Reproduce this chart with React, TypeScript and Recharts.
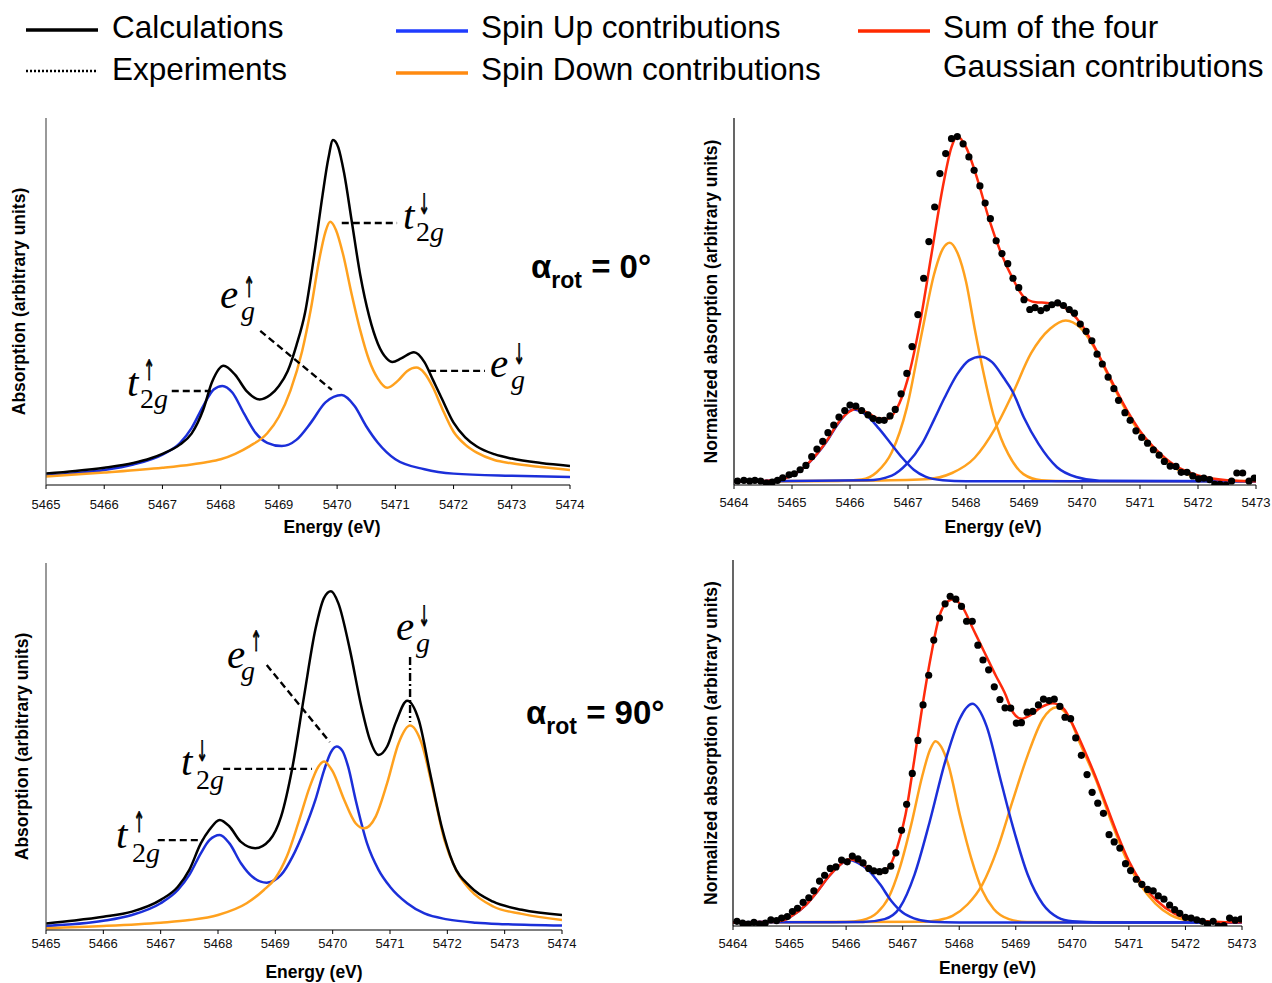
import React from 'react';
import { LineChart, Line, XAxis, YAxis, ReferenceLine, Label } from 'recharts';

const SANS = "'Liberation Sans', Arial, Helvetica, sans-serif";
const SERIF = "'Liberation Serif', 'Times New Roman', serif";
const ARROWFONT = "'DejaVu Sans', 'DejaVu Serif', sans-serif";

const BLACK = '#000000';
const BLUE = '#1b2fd9';
const ORANGE = '#ffa11e';
const RED = '#ff2b0c';

type Pt = [number, number];

// ---------- tick labels ----------
const ticksCalc = [5465, 5466, 5467, 5468, 5469, 5470, 5471, 5472, 5473, 5474];
const ticksFit = [5464, 5465, 5466, 5467, 5468, 5469, 5470, 5471, 5472, 5473];

// ---------- Top-left: calculations, alpha_rot = 0 ----------
const calc0Total: Pt[] = [
  [5465, 3.1], [5465.5, 3.8], [5466, 4.7], [5466.5, 6], [5466.8, 7.3], [5467, 8.5], [5467.3, 11], [5467.5, 14],
  [5467.7, 20.5], [5467.85, 28], [5468.05, 32.5], [5468.25, 30], [5468.45, 25.5], [5468.67, 23.3], [5468.85, 24.5],
  [5469, 27], [5469.15, 31], [5469.3, 38], [5469.45, 47], [5469.6, 62], [5469.75, 79], [5469.85, 89], [5469.93, 94],
  [5470.02, 92], [5470.12, 85], [5470.25, 72], [5470.4, 57], [5470.55, 46], [5470.7, 38.5], [5470.85, 34.5],
  [5470.95, 33.5], [5471.1, 34.5], [5471.32, 36.2], [5471.5, 33.5], [5471.65, 28.5], [5471.8, 23.5], [5472, 17],
  [5472.2, 13], [5472.4, 10.5], [5472.7, 8.4], [5473, 7.2], [5473.5, 6], [5474, 5.2],
];
const calc0Up: Pt[] = [
  [5465, 2.5], [5465.5, 3.2], [5466, 4.1], [5466.5, 5.6], [5467, 8.3], [5467.3, 11.4], [5467.5, 15.5], [5467.7, 21.5],
  [5467.88, 26], [5468.03, 27], [5468.2, 25.2], [5468.4, 19.5], [5468.6, 14.2], [5468.8, 11.5], [5469.05, 10.6],
  [5469.3, 12.3], [5469.55, 17], [5469.8, 22.5], [5470.08, 24.5], [5470.3, 21.5], [5470.5, 16], [5470.7, 11.5],
  [5471, 7], [5471.5, 4.3], [5472, 3.1], [5473, 2.5], [5474, 2.2],
];
const calc0Down: Pt[] = [
  [5465, 2.3], [5466, 3.4], [5467, 4.7], [5467.5, 5.6], [5467.75, 6.2], [5468, 7], [5468.25, 8.5], [5468.5, 10.6],
  [5468.8, 14.1], [5469, 18.6], [5469.2, 25.8], [5469.4, 36.5], [5469.55, 48], [5469.7, 62], [5469.8, 69],
  [5469.88, 71.7], [5469.98, 69.5], [5470.1, 63], [5470.25, 52], [5470.4, 42], [5470.55, 34], [5470.7, 29],
  [5470.86, 26.5], [5471.05, 28.5], [5471.2, 31], [5471.36, 32], [5471.5, 30.5], [5471.65, 26.5], [5471.8, 21],
  [5472, 14.5], [5472.2, 11], [5472.4, 8.8], [5472.7, 6.8], [5473, 5.9], [5473.5, 4.9], [5474, 4.1],
];

// ---------- Bottom-left: calculations, alpha_rot = 90 ----------
const calc90Total: Pt[] = [
  [5465, 1.8], [5465.5, 2.6], [5466, 3.6], [5466.5, 5], [5467, 8.2], [5467.3, 11.8], [5467.5, 16.4], [5467.7, 23.6],
  [5467.85, 27.3], [5468.03, 30], [5468.2, 28.2], [5468.4, 24], [5468.65, 22.3], [5468.9, 24.5], [5469.1, 30.9],
  [5469.3, 44.5], [5469.5, 63.6], [5469.7, 82], [5469.85, 90.5], [5469.97, 92.3], [5470.1, 89], [5470.3, 76.4],
  [5470.5, 60.9], [5470.65, 51.8], [5470.8, 47.7], [5470.95, 50], [5471.1, 56.5], [5471.3, 62.5], [5471.5, 57.3],
  [5471.7, 42.7], [5471.9, 28.2], [5472.1, 18.2], [5472.4, 11.8], [5472.8, 7.7], [5473.3, 5.5], [5474, 4.1],
];
const calc90Up: Pt[] = [
  [5465, 1.1], [5466, 2.5], [5466.5, 4.1], [5467, 7.3], [5467.3, 10.9], [5467.5, 15], [5467.7, 20.9], [5467.85, 24.5],
  [5468.03, 25.9], [5468.2, 23.6], [5468.4, 18.2], [5468.6, 14.5], [5468.85, 12.9], [5469.1, 15], [5469.3, 20],
  [5469.5, 27], [5469.7, 35.5], [5469.85, 43.5], [5469.97, 48.5], [5470.07, 50], [5470.17, 48.8], [5470.27, 44.5],
  [5470.4, 35.5], [5470.6, 23.6], [5470.8, 16.4], [5471, 11.8], [5471.3, 7.3], [5471.6, 4.5], [5472, 2.9],
  [5472.5, 2], [5473, 1.6], [5474, 1.2],
];
const calc90Down: Pt[] = [
  [5465, 0.5], [5466, 1.1], [5467, 2], [5467.5, 2.7], [5468, 4.1], [5468.5, 7.3], [5468.8, 10.9], [5469, 14.1],
  [5469.2, 20], [5469.4, 29.1], [5469.6, 39], [5469.75, 44.5], [5469.85, 45.9], [5470, 43.2], [5470.2, 35.5],
  [5470.4, 29.1], [5470.55, 27.7], [5470.75, 30.9], [5470.95, 40], [5471.15, 50.9], [5471.35, 55.7], [5471.55, 50.9],
  [5471.75, 38.2], [5471.95, 24.5], [5472.15, 16.4], [5472.4, 10.9], [5472.8, 6.4], [5473.3, 4.4], [5474, 2.7],
];

// ---------- Top-right: Gaussian fit, alpha_rot = 0 ----------
const fit0Sum: Pt[] = [
  [5464, 0], [5464.5, 0.1], [5464.8, 0.6], [5465, 1.6], [5465.3, 5.3], [5465.6, 11.2], [5465.8, 16.2], [5466, 19.3],
  [5466.1, 20], [5466.3, 18.9], [5466.5, 17.3], [5466.65, 17.2], [5466.8, 19.8], [5467, 28.4], [5467.2, 43],
  [5467.4, 62], [5467.6, 81], [5467.75, 92], [5467.85, 95], [5468, 92], [5468.2, 83], [5468.4, 72], [5468.6, 63],
  [5468.8, 56], [5469, 50.7], [5469.2, 49.3], [5469.4, 49.1], [5469.6, 48.6], [5469.8, 46.6], [5470, 43],
  [5470.2, 37.5], [5470.4, 31.2], [5470.6, 24.8], [5470.8, 18.9], [5471, 13.9], [5471.3, 8.4], [5471.6, 4.4],
  [5472, 1.6], [5472.5, 0.3], [5473, 0],
];
const fit0Up1: Pt[] = [
  [5464, 0], [5464.5, 0.1], [5464.8, 0.6], [5465, 1.5], [5465.3, 5.2], [5465.6, 11], [5465.8, 16], [5466, 19.5],
  [5466.07, 19.8], [5466.3, 18], [5466.5, 14.5], [5466.7, 10.5], [5466.9, 6.5], [5467.1, 3.2], [5467.3, 1.3],
  [5467.6, 0.3], [5468, 0], [5473, 0],
];
const fit0Up2: Pt[] = [
  [5464, 0], [5466.3, 0.3], [5466.72, 1.6], [5466.98, 4.8], [5467.24, 10.3], [5467.45, 17], [5467.63, 23],
  [5467.85, 29.5], [5468.05, 33.3], [5468.25, 34.3], [5468.45, 32.8], [5468.65, 28.5], [5468.8, 24.8], [5469, 17.5],
  [5469.25, 10.3], [5469.57, 3.9], [5469.9, 1.2], [5470.3, 0.2], [5473, 0],
];
const fit0Down1: Pt[] = [
  [5464, 0], [5465.8, 0.1], [5466.2, 0.5], [5466.46, 2.5], [5466.72, 8], [5466.98, 20.3], [5467.24, 41],
  [5467.45, 57], [5467.6, 64], [5467.72, 65.7], [5467.85, 63], [5468, 55], [5468.15, 42], [5468.3, 30],
  [5468.47, 18.4], [5468.6, 12], [5468.73, 7.5], [5468.99, 2], [5469.3, 0.3], [5469.8, 0], [5473, 0],
];
const fit0Down2: Pt[] = [
  [5464, 0], [5466.2, 0.2], [5467.3, 0.6], [5467.76, 2.3], [5468.15, 6.5], [5468.5, 14.5], [5468.8, 24],
  [5469.12, 35.2], [5469.45, 42], [5469.72, 44.3], [5469.97, 42.3], [5470.22, 36.6], [5470.48, 28.2],
  [5470.87, 16.4], [5471.2, 9.6], [5471.52, 4.6], [5471.85, 1.7], [5472.17, 0.6], [5472.5, 0.2], [5473, 0.1],
];
const exp0: Pt[] = [
  [5464.06, 0.1], [5464.17, 0.3], [5464.27, 0.1], [5464.36, 0.3], [5464.46, 0.1], [5464.56, -0.5], [5464.66, -0.2],
  [5464.75, 0.3], [5464.84, 1.0], [5464.95, 1.8], [5465.04, 2.1], [5465.14, 3.2], [5465.24, 4.4], [5465.34, 6.8],
  [5465.43, 8.9], [5465.53, 11.0], [5465.62, 13.4], [5465.72, 15.5], [5465.81, 17.7], [5465.91, 19.5], [5466.0, 21.0],
  [5466.1, 20.7], [5466.2, 19.5], [5466.31, 18.3], [5466.4, 17.3], [5466.5, 16.8], [5466.59, 16.8], [5466.69, 18.0],
  [5466.78, 19.8], [5466.88, 24.1], [5466.98, 29.7], [5467.07, 37.1], [5467.17, 45.9], [5467.27, 55.9], [5467.36, 66.0],
  [5467.46, 75.5], [5467.55, 84.7], [5467.65, 90.2], [5467.75, 94.3], [5467.85, 94.9], [5467.95, 92.9], [5468.05, 89.3],
  [5468.14, 85.6], [5468.24, 81.3], [5468.33, 76.6], [5468.42, 72.3], [5468.52, 66.2], [5468.62, 62.7], [5468.72, 59.9],
  [5468.81, 55.9], [5468.91, 53.3], [5469.0, 50.0], [5469.1, 47.3], [5469.19, 47.8], [5469.29, 47.0], [5469.39, 47.7],
  [5469.48, 48.6], [5469.58, 49.1], [5469.68, 48.4], [5469.78, 47.3], [5469.87, 46.3], [5469.97, 43.3], [5470.07, 41.3],
  [5470.17, 38.7], [5470.26, 35.0], [5470.35, 32.3], [5470.45, 28.7], [5470.55, 25.5], [5470.63, 22.3], [5470.74, 18.9],
  [5470.83, 16.8], [5470.93, 13.9], [5471.03, 12.1], [5471.13, 10.5], [5471.23, 8.7], [5471.33, 7.2], [5471.42, 5.5],
  [5471.52, 4.2], [5471.62, 4.1], [5471.71, 2.5], [5471.81, 2.5], [5471.91, 1.5], [5472.01, 0.7], [5472.1, 0.9],
  [5472.2, 0.5], [5472.29, -0.8], [5472.38, -0.8], [5472.48, -1.0], [5472.58, 0.1], [5472.67, 2.3], [5472.77, 2.3],
  [5472.88, 0.1], [5472.97, 0.9],
];

// ---------- Bottom-right: Gaussian fit, alpha_rot = 90 ----------
const fit90Sum: Pt[] = [
  [5464, 0], [5464.5, 0.1], [5464.9, 0.6], [5465, 1.4], [5465.3, 5], [5465.5, 8.7], [5465.7, 12.8], [5465.9, 16],
  [5466.05, 17.4], [5466.2, 16.9], [5466.4, 14.9], [5466.6, 13.7], [5466.75, 15.1], [5466.9, 20.5], [5467.05, 29.7],
  [5467.2, 44.3], [5467.35, 59.8], [5467.5, 73.5], [5467.65, 84.5], [5467.8, 88.6], [5467.9, 89.2], [5468.05, 87.2],
  [5468.25, 80.8], [5468.45, 74.4], [5468.65, 68], [5468.8, 63.5], [5468.95, 58], [5469.1, 56.2], [5469.25, 57.1],
  [5469.45, 59.4], [5469.65, 60.5], [5469.85, 58.9], [5470, 54.8], [5470.2, 48], [5470.4, 40.6], [5470.6, 32.4],
  [5470.8, 24.2], [5471, 16.9], [5471.2, 11.4], [5471.5, 5.9], [5471.8, 2.5], [5472.1, 0.9], [5472.5, 0.2], [5473, 0],
];
const fit90Up1: Pt[] = [
  [5464, 0], [5464.6, 0.2], [5464.9, 0.6], [5465, 1.4], [5465.3, 5], [5465.5, 8.7], [5465.7, 12.8], [5465.9, 16],
  [5466.05, 17.2], [5466.2, 16.5], [5466.4, 14.3], [5466.6, 10.5], [5466.8, 5.9], [5467, 2.7], [5467.2, 1.1],
  [5467.5, 0.2], [5468, 0], [5473, 0],
];
const fit90Up2: Pt[] = [
  [5464, 0], [5466.3, 0.1], [5466.68, 0.9], [5466.95, 4.1], [5467.21, 13.2], [5467.48, 27.9], [5467.75, 44.3],
  [5468.01, 56.2], [5468.23, 60.3], [5468.48, 54.3], [5468.74, 38.8], [5468.94, 26.9], [5469.21, 13.2], [5469.48, 5],
  [5469.74, 1.4], [5470, 0.3], [5470.5, 0], [5473, 0],
];
const fit90Down1: Pt[] = [
  [5464, 0], [5466, 0.1], [5466.28, 0.6], [5466.55, 2.7], [5466.75, 6.8], [5466.95, 15.1], [5467.15, 26.9],
  [5467.35, 40.6], [5467.48, 47.5], [5467.58, 50], [5467.68, 48.5], [5467.81, 43.4], [5468.01, 29.7], [5468.21, 17.8],
  [5468.41, 8.7], [5468.61, 3.7], [5468.88, 0.9], [5469.2, 0.1], [5473, 0],
];
const fit90Down2: Pt[] = [
  [5464, 0], [5467.4, 0.2], [5467.62, 0.6], [5467.88, 1.8], [5468.15, 5], [5468.41, 10.5], [5468.68, 20.5],
  [5468.94, 33.3], [5469.21, 46.1], [5469.48, 56.2], [5469.72, 59.4], [5469.94, 56.6], [5470.14, 49.2], [5470.41, 39.6],
  [5470.67, 28.6], [5470.94, 18.0], [5471.2, 10.4], [5471.47, 5.2], [5471.74, 2.0], [5472.07, 0.5], [5472.5, 0.1],
  [5473, 0],
];
const exp90: Pt[] = [
  [5464.07, 0.3], [5464.17, -0.2], [5464.27, -0.5], [5464.37, 0], [5464.47, -0.5], [5464.57, -0.2], [5464.67, 0.7],
  [5464.77, 0.5], [5464.86, 1.2], [5464.96, 1.6], [5465.05, 3.0], [5465.14, 3.9], [5465.24, 5.5], [5465.34, 6.8],
  [5465.43, 8.7], [5465.53, 11.4], [5465.62, 13.0], [5465.72, 14.9], [5465.82, 15.3], [5465.92, 17.2], [5466.02, 16.7],
  [5466.11, 18.3], [5466.21, 17.5], [5466.3, 16.4], [5466.4, 14.9], [5466.49, 14.2], [5466.59, 14.0], [5466.69, 14.3],
  [5466.79, 15.5], [5466.88, 19.2], [5466.98, 25.4], [5467.07, 32.6], [5467.17, 41.1], [5467.27, 50.2], [5467.36, 60.0],
  [5467.46, 68.2], [5467.55, 77.9], [5467.65, 84.0], [5467.75, 87.9], [5467.84, 90.0], [5467.94, 89.2], [5468.04, 87.2],
  [5468.13, 83.1], [5468.23, 83.1], [5468.33, 76.5], [5468.42, 72.4], [5468.52, 69.7], [5468.62, 65.0], [5468.72, 61.5],
  [5468.81, 59.2], [5468.91, 59.1], [5469.01, 55.0], [5469.1, 55.1], [5469.2, 58.0], [5469.3, 58.2], [5469.4, 60.0],
  [5469.49, 61.6], [5469.59, 61.2], [5469.68, 61.6], [5469.78, 59.6], [5469.87, 56.6], [5469.97, 56.2], [5470.06, 50.9],
  [5470.16, 46.1], [5470.26, 40.8], [5470.35, 35.9], [5470.45, 32.9], [5470.55, 30.1], [5470.65, 24.2], [5470.74, 22.2],
  [5470.84, 20.5], [5470.94, 16.2], [5471.03, 14.3], [5471.13, 11.9], [5471.23, 10.5], [5471.33, 9.1], [5471.43, 8.7],
  [5471.52, 7.3], [5471.62, 6.4], [5471.72, 4.8], [5471.81, 3.5], [5471.9, 2.5], [5472.0, 1.4], [5472.1, 1.2],
  [5472.2, 0.7], [5472.3, 0.3], [5472.39, -0.5], [5472.49, 0.3], [5472.58, -1.0], [5472.68, -0.9], [5472.78, 1.2],
  [5472.88, 0.6], [5472.98, 0.9],
];

const pts = (a: Pt[]) => a.map(([x, y]) => ({ x, y }));

type Seg = { a: Pt; b: Pt; dash?: string };
type Series = { data: Pt[]; color: string };

interface PanelProps {
  left: number;
  top: number;
  width: number;
  height: number;
  margin: { top: number; right: number; bottom: number; left: number };
  xDomain: [number, number];
  yDomain: [number, number];
  ticks: number[];
  tickMargin: number;
  lines: Series[];
  dots?: Pt[];
  yTitle: string;
  yTitleX: number;
  xTitleDx: number;
  segments?: Seg[];
  yAxisColor: string;
}

function Panel(p: PanelProps) {
  const xTitle = (props: any) => {
    const vb = props.viewBox || {};
    const cx = vb.x + vb.width / 2 + p.xTitleDx;
    const cy = vb.y + 42;
    return (
      <text x={cx} y={cy} textAnchor="middle" dominantBaseline="central" fontFamily={SANS} fontWeight="bold" fontSize={17.5} fill="#000">
        Energy (eV)
      </text>
    );
  };
  const yTitle = (props: any) => {
    const vb = props.viewBox || {};
    const cy = vb.y + vb.height / 2;
    const cx = p.yTitleX;
    return (
      <text x={cx} y={cy} transform={`rotate(-90 ${cx} ${cy})`} textAnchor="middle" dominantBaseline="central" fontFamily={SANS} fontWeight="bold" fontSize={17.5} fill="#000">
        {p.yTitle}
      </text>
    );
  };
  return (
    <div style={{ position: 'absolute', left: p.left, top: p.top }}>
      <LineChart width={p.width} height={p.height} margin={p.margin}>
        <XAxis
          type="number"
          dataKey="x"
          domain={p.xDomain}
          ticks={p.ticks}
          interval={0}
          allowDataOverflow
          height={30}
          tickSize={4}
          tickMargin={p.tickMargin}
          stroke="#000"
          tick={{ fontSize: 13, fill: '#111', fontFamily: SANS }}
        >
          <Label content={xTitle} />
        </XAxis>
        <YAxis
          type="number"
          domain={p.yDomain}
          allowDataOverflow
          width={40}
          tick={false}
          tickLine={false}
          axisLine={{ stroke: p.yAxisColor, strokeWidth: 1.2 }}
        >
          <Label content={yTitle} />
        </YAxis>
        {p.lines.map((s, i) => (
          <Line
            key={i}
            data={pts(s.data)}
            dataKey="y"
            type="monotone"
            stroke={s.color}
            strokeWidth={2.5}
            dot={false}
            activeDot={false}
            isAnimationActive={false}
          />
        ))}
        {p.dots && (
          <Line
            data={pts(p.dots)}
            dataKey="y"
            stroke="none"
            strokeWidth={0}
            dot={{ r: 3.6, fill: '#000', stroke: 'none' }}
            activeDot={false}
            isAnimationActive={false}
          />
        )}
        {(p.segments || []).map((s, i) => (
          <ReferenceLine
            key={'s' + i}
            segment={[{ x: s.a[0], y: s.a[1] }, { x: s.b[0], y: s.b[1] }]}
            stroke="#000"
            strokeWidth={2.4}
            strokeDasharray={s.dash || '7 4'}
            ifOverflow="visible"
          />
        ))}
      </LineChart>
    </div>
  );
}

function Orb(props: { base: string; bx: number; by: number; arrow: string; ax: number; ay: number; two: boolean; sx: number; sy: number }) {
  return (
    <g fill="#000">
      <text x={props.bx} y={props.by} fontFamily={SERIF} fontStyle="italic" fontSize={41}>{props.base}</text>
      <text
        transform={`translate(${props.ax} ${props.ay}) scale(0.5 1)`}
        fontFamily={ARROWFONT}
        fontSize={28}
        textAnchor="middle"
        fill="#000"
        stroke="#000"
        strokeWidth={0.9}
      >
        {props.arrow + '\uFE0E'}
      </text>
      <text x={props.sx} y={props.sy} fontFamily={SERIF} fontSize={28}>
        {props.two ? <tspan>2</tspan> : null}
        <tspan fontStyle="italic">g</tspan>
      </text>
    </g>
  );
}

function Alpha(props: { x: number; y: number; value: string }) {
  return (
    <text x={props.x} y={props.y} fontFamily={SANS} fontWeight="bold" fill="#000" fontSize={33}>
      α
      <tspan fontSize={23} dy={10}>rot</tspan>
      <tspan fontSize={33} dy={-10}>{' = ' + props.value}</tspan>
    </text>
  );
}

export default function App() {
  return (
    <div style={{ position: 'absolute', left: 0, top: 0, width: 1272, height: 983, background: '#fff', overflow: 'hidden' }}>
      <Panel
        left={0}
        top={100}
        width={600}
        height={450}
        margin={{ top: 18, right: 30, bottom: 35, left: 6 }}
        xDomain={[5465, 5474]}
        yDomain={[0, 100]}
        ticks={ticksCalc}
        tickMargin={11}
        lines={[
          { data: calc0Up, color: BLUE },
          { data: calc0Down, color: ORANGE },
          { data: calc0Total, color: BLACK },
        ]}
        yTitle="Absorption (arbitrary units)"
        yTitleX={19}
        xTitleDx={24}
        yAxisColor="#555"
        segments={[
          { a: [5470.08, 71.4], b: [5471.03, 71.4] },
          { a: [5468.68, 42], b: [5469.91, 25.9] },
          { a: [5471.58, 31.1], b: [5472.54, 31.1] },
          { a: [5467.16, 25.6], b: [5467.83, 25.6] },
        ]}
      />
      <Panel
        left={680}
        top={100}
        width={592}
        height={450}
        margin={{ top: 18, right: 16, bottom: 35, left: 14 }}
        xDomain={[5464, 5473]}
        yDomain={[-1, 100]}
        ticks={ticksFit}
        tickMargin={9}
        lines={[
          { data: fit0Down1, color: ORANGE },
          { data: fit0Down2, color: ORANGE },
          { data: fit0Up1, color: BLUE },
          { data: fit0Up2, color: BLUE },
          { data: fit0Sum, color: RED },
        ]}
        dots={exp0}
        yTitle="Normalized absorption (arbitrary units)"
        yTitleX={31}
        xTitleDx={-2}
        yAxisColor="#000"
      />
      <Panel
        left={0}
        top={550}
        width={600}
        height={433}
        margin={{ top: 13, right: 38, bottom: 23, left: 6 }}
        xDomain={[5465, 5474]}
        yDomain={[0, 100]}
        ticks={ticksCalc}
        tickMargin={5}
        lines={[
          { data: calc90Up, color: BLUE },
          { data: calc90Down, color: ORANGE },
          { data: calc90Total, color: BLACK },
        ]}
        yTitle="Absorption (arbitrary units)"
        yTitleX={22}
        xTitleDx={10}
        yAxisColor="#555"
        segments={[
          { a: [5468.85, 72.2], b: [5469.95, 51.2] },
          { a: [5471.35, 74.4], b: [5471.35, 56.7], dash: '8 3 2 3' },
          { a: [5468.09, 43.9], b: [5469.64, 43.9] },
          { a: [5466.95, 24.5], b: [5467.74, 24.5] },
        ]}
      />
      <Panel
        left={680}
        top={550}
        width={592}
        height={433}
        margin={{ top: 10, right: 30, bottom: 27, left: 13 }}
        xDomain={[5464, 5473]}
        yDomain={[-1, 100]}
        ticks={ticksFit}
        tickMargin={9}
        lines={[
          { data: fit90Down1, color: ORANGE },
          { data: fit90Down2, color: ORANGE },
          { data: fit90Up1, color: BLUE },
          { data: fit90Up2, color: BLUE },
          { data: fit90Sum, color: RED },
        ]}
        dots={exp90}
        yTitle="Normalized absorption (arbitrary units)"
        yTitleX={31}
        xTitleDx={0}
        yAxisColor="#000"
      />

      <svg width={1272} height={983} style={{ position: 'absolute', left: 0, top: 0, pointerEvents: 'none' }}>
        {/* legend */}
        <g fontFamily={SANS} fontSize={31.5} fill="#000">
          <line x1={26} y1={30} x2={98} y2={30} stroke="#000" strokeWidth={3.5} />
          <text x={112} y={38}>Calculations</text>
          <line x1={26} y1={71} x2={98} y2={71} stroke="#000" strokeWidth={2.5} strokeDasharray="2 2" />
          <text x={112} y={80}>Experiments</text>
          <line x1={396} y1={31} x2={468} y2={31} stroke="#1f3cff" strokeWidth={3.5} />
          <text x={481} y={38}>Spin Up contributions</text>
          <line x1={396} y1={73} x2={468} y2={73} stroke="#ff8a10" strokeWidth={3.5} />
          <text x={481} y={80}>Spin Down contributions</text>
          <line x1={858} y1={31} x2={930} y2={31} stroke="#ff2a00" strokeWidth={3.5} />
          <text x={943} y={38}>Sum of the four</text>
          <text x={943} y={77}>Gaussian contributions</text>
        </g>

        {/* top-left annotations */}
        <Orb base="t" bx={403} by={229} arrow="↓" ax={424} ay={214} two sx={416} sy={241} />
        <Orb base="e" bx={220} by={308} arrow="↑" ax={249} ay={297} two={false} sx={241} sy={320} />
        <Orb base="e" bx={490} by={377} arrow="↓" ax={519} ay={364} two={false} sx={511} sy={389} />
        <Orb base="t" bx={127} by={396} arrow="↑" ax={149} ay={380} two sx={140} sy={408} />
        <Alpha x={531} y={278} value="0°" />

        {/* bottom-left annotations */}
        <Orb base="e" bx={227} by={668} arrow="↑" ax={256} ay={651} two={false} sx={241} sy={680} />
        <Orb base="e" bx={396} by={640} arrow="↓" ax={424} ay={626} two={false} sx={416} sy={652} />
        <Orb base="t" bx={181} by={775} arrow="↓" ax={202} ay={761} two sx={196} sy={789} />
        <Orb base="t" bx={116} by={848} arrow="↑" ax={139} ay={832} two sx={132} sy={862} />
        <Alpha x={526} y={724} value="90°" />
      </svg>
    </div>
  );
}
